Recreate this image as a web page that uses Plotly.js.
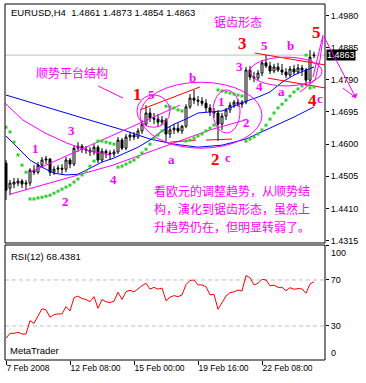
<!DOCTYPE html>
<html><head><meta charset="utf-8">
<script src="https://cdn.plot.ly/plotly-3.0.1.min.js"></script>
<style>html,body{margin:0;padding:0;background:#fff;}#c{width:366px;height:383px;}</style>
</head><body><div id="c"></div>
<script>
// ---- data (EURUSD H4, bar index 0 = 7 Feb 2008) ----
const tickBars = [0, 16, 32, 48, 64];
const tickLabels = ['7 Feb 2008', '12 Feb 08:00', '15 Feb 00:00', '19 Feb 16:00', '22 Feb 08:00'];
const priceTicks = [1.4315, 1.4410, 1.4505, 1.4600, 1.4695, 1.4790, 1.4885, 1.4980];

const open  = [1.4544,1.4470,1.4482,1.4485,1.4491,1.4482,1.4485,1.4523,1.4517,1.4538,1.4553,1.4556,1.4517,1.4526,1.4529,1.4526,1.4553,1.4541,1.4588,1.4594,
               1.4585,1.4582,1.4577,1.4591,1.4553,1.4579,1.4574,1.4571,1.4577,1.4612,1.4588,1.4621,1.4627,1.4621,1.4639,1.4659,1.4692,1.4677,1.4674,1.4665,
               1.4671,1.4630,1.4642,1.4647,1.4639,1.4653,1.4710,1.4736,1.4730,1.4727,1.4721,1.4707,1.4695,1.4692,1.4659,1.4683,1.4701,1.4715,1.4724,1.4718,
               1.4724,1.4819,1.4798,1.4795,1.4810,1.4840,1.4831,1.4816,1.4828,1.4819,1.4813,1.4804,1.4822,1.4813,1.4825,1.4819,1.4789,1.4861];
const high  = [1.4553,1.4494,1.4500,1.4500,1.4497,1.4494,1.4529,1.4538,1.4547,1.4562,1.4565,1.4559,1.4535,1.4538,1.4541,1.4562,1.4559,1.4597,1.4606,1.4600,
               1.4594,1.4591,1.4600,1.4597,1.4588,1.4585,1.4582,1.4585,1.4621,1.4618,1.4630,1.4636,1.4636,1.4647,1.4671,1.4715,1.4707,1.4692,1.4689,1.4683,
               1.4677,1.4653,1.4659,1.4662,1.4656,1.4718,1.4748,1.4760,1.4742,1.4739,1.4733,1.4718,1.4707,1.4701,1.4692,1.4707,1.4724,1.4730,1.4733,1.4730,
               1.4828,1.4831,1.4813,1.4819,1.4849,1.4863,1.4843,1.4837,1.4840,1.4837,1.4825,1.4831,1.4834,1.4837,1.4834,1.4825,1.4878,1.4873];
const low   = [1.4435,1.4449,1.4470,1.4476,1.4470,1.4464,1.4476,1.4509,1.4511,1.4532,1.4541,1.4506,1.4509,1.4514,1.4511,1.4517,1.4529,1.4535,1.4577,1.4574,
               1.4571,1.4565,1.4568,1.4544,1.4547,1.4559,1.4553,1.4562,1.4571,1.4582,1.4582,1.4609,1.4612,1.4615,1.4630,1.4653,1.4665,1.4659,1.4653,1.4656,
               1.4606,1.4618,1.4630,1.4633,1.4630,1.4647,1.4704,1.4718,1.4713,1.4713,1.4695,1.4683,1.4677,1.4609,1.4642,1.4671,1.4692,1.4707,1.4710,1.4707,
               1.4718,1.4789,1.4783,1.4789,1.4801,1.4825,1.4807,1.4810,1.4813,1.4804,1.4795,1.4798,1.4804,1.4807,1.4801,1.4772,1.4778,1.4854];
const close = [1.4464,1.4485,1.4488,1.4491,1.4482,1.4485,1.4523,1.4517,1.4538,1.4553,1.4556,1.4517,1.4526,1.4529,1.4526,1.4553,1.4541,1.4588,1.4594,1.4585,
               1.4582,1.4577,1.4591,1.4553,1.4579,1.4574,1.4571,1.4577,1.4612,1.4588,1.4621,1.4627,1.4621,1.4639,1.4659,1.4692,1.4677,1.4674,1.4665,1.4671,
               1.4630,1.4642,1.4647,1.4639,1.4653,1.4710,1.4736,1.4730,1.4727,1.4721,1.4707,1.4695,1.4692,1.4659,1.4683,1.4701,1.4715,1.4724,1.4718,1.4724,
               1.4819,1.4798,1.4795,1.4810,1.4840,1.4831,1.4816,1.4828,1.4819,1.4813,1.4804,1.4822,1.4813,1.4825,1.4819,1.4789,1.4857,1.4863];
const sar   = [1.4650,1.4636,1.4606,1.4568,1.4538,1.4517,1.4438,1.4438,1.4441,1.4443,1.4446,1.4449,1.4455,1.4461,1.4467,1.4473,1.4479,1.4488,1.4497,1.4509,
               1.4520,1.4535,1.4550,1.4609,1.4609,1.4606,1.4603,1.4600,1.4532,1.4535,1.4541,1.4547,1.4553,1.4562,1.4574,1.4585,1.4600,1.4615,1.4627,1.4639,
               1.4712,1.4710,1.4707,1.4701,1.4698,1.4609,1.4612,1.4618,1.4624,1.4630,1.4639,1.4647,1.4656,1.4760,1.4757,1.4754,1.4751,1.4748,1.4745,1.4742,
               1.4609,1.4615,1.4621,1.4630,1.4642,1.4656,1.4674,1.4692,1.4707,1.4718,1.4730,1.4742,1.4754,1.4763,1.4772,1.4863,1.4766,1.4769];
const rsi   = [19.3,23.6,23.6,24.5,23.0,23.0,34.6,32.3,38.7,45.0,44.0,37.6,39.8,40.5,40.5,46.8,43.0,54.6,56.0,53.8,
               53.0,51.0,55.5,45.4,53.0,51.0,50.4,51.5,59.3,53.0,59.8,61.0,59.6,62.5,65.0,67.1,62.0,63.6,62.0,63.0,
               52.0,55.0,56.4,55.5,57.0,66.0,69.5,70.0,65.7,65.7,64.2,57.0,57.5,44.5,49.7,56.0,59.0,59.6,61.3,60.4,
               73.8,72.0,65.7,67.1,70.6,70.0,65.0,65.5,63.6,63.6,60.7,63.3,61.9,62.5,62.2,58.4,66.5,68.4381];
const maFastBars = [0,3,6,9,12,15,18,21,24,27,30,33,36,39,42,45,48,51,54,57,60,63,66,69,72,75,77];
const maFast = [1.4624,1.4588,1.4553,1.4532,1.4514,1.4509,1.4511,1.4529,1.4547,1.4559,1.4574,1.4591,1.4612,1.4639,1.4659,1.4674,1.4692,1.4695,1.4698,1.4712,1.4727,1.4739,1.4754,1.4783,1.4804,1.4819,1.4828];
const maSlowBars = [0,6,12,18,24,30,36,42,48,54,60,66,72,77];
const maSlow = [1.4745,1.4724,1.4704,1.4683,1.4662,1.4639,1.4615,1.4600,1.4591,1.4597,1.4615,1.4647,1.4680,1.4710];
const lastPrice = 1.4863;

// hand-drawn analysis objects (bar, price)
const magentaLines = [
  [[23,1.4772],[29.25,1.4736]],
  [[6,1.4517],[43.5,1.4715]],
  [[1,1.4452],[26.75,1.4538],[51,1.4642],[59.75,1.4671]],
  [[-0.25,1.4721],[4.25,1.4671],[9.75,1.4633],[15.25,1.4603],[21,1.4579],[26,1.4568]],
  [[73.5,1.4754],[77.25,1.4789],[78.5,1.4849],[79.25,1.4916]]
];
const redLines = [
  [[33.5,1.4701],[48.5,1.4769]],
  [[41,1.4606],[47.5,1.4612]],
  [[50,1.4612],[56.5,1.4615]],
  [[62.25,1.4869],[79.75,1.4834]],
  [[65.5,1.4795],[79.75,1.4766]]
];
const ellipses = [
  [32.75,41,1.4650,1.4745],
  [33.5,64,1.4588,1.4783],
  [51.75,58.5,1.4633,1.4760],
  [61,79,1.4772,1.4857]
];
const waveLabels = ['锯齿形态','3','5','b','5','顺势平台结构','1','5','b','3','1','4','a','4','c','2','1','3','4','a','2','c','2'];
const waveX = [58,59,64.5,71,77.5,16.5,32.75,36.25,46.5,58.25,53.75,63.25,68.75,76.5,78.5,60,7.25,16.25,26.75,41.25,52.25,55.5,14.75];
const waveY = [1.4961,1.4896,1.4890,1.4890,1.4931,1.4813,1.4748,1.4748,1.4798,1.4828,1.4727,1.4769,1.4757,1.4730,1.4736,1.4665,1.4588,1.4639,1.4497,1.4556,1.4556,1.4562,1.4432];
const waveKind = ['cjk','red','mag','mag','red','cjk','red','mag','mag','mag','mag','mag','mag','red','mag','mag','mag','mag','mag','mag','red','mag','mag'];
const comment = ['看欧元的调整趋势，从顺势结','构，演化到锯齿形态，虽然上','升趋势仍在，但明显转弱了。'];
const commentY = [1.4464,1.4411,1.4358];

// ---- drawing ----
const bars = close.map((_, i) => i);
const MAG = '#ff00ff', RED = '#ff0000';
const tickFont = {family:'Liberation Sans, Arial, sans-serif', size:9, color:'#000'};
const traces = [];
traces.push({type:'scatter', mode:'lines', x:maSlowBars, y:maSlow, line:{color:'#0000ff', width:1}, hoverinfo:'skip'});
traces.push({type:'scatter', mode:'lines', x:maFastBars, y:maFast, line:{color:'#0000ff', width:1}, hoverinfo:'skip'});
magentaLines.forEach(l => traces.push({type:'scatter', mode:'lines', x:l.map(p=>p[0]), y:l.map(p=>p[1]), line:{color:MAG, width:1}, hoverinfo:'skip'}));
redLines.forEach(l => traces.push({type:'scatter', mode:'lines', x:l.map(p=>p[0]), y:l.map(p=>p[1]), line:{color:RED, width:1}, hoverinfo:'skip'}));
traces.push({type:'candlestick', x:bars, open:open, high:high, low:low, close:close,
  increasing:{line:{color:'#000', width:1}, fillcolor:'#ffffff'},
  decreasing:{line:{color:'#000', width:1}, fillcolor:'#000000'}, whiskerwidth:0, hoverinfo:'skip'});
traces.push({type:'scatter', mode:'markers', x:bars, y:sar, marker:{symbol:'square', size:3, color:'#32cd32'}, hoverinfo:'skip'});
traces.push({type:'scatter', mode:'lines', x:bars, y:rsi, yaxis:'y2', line:{color:RED, width:1}, hoverinfo:'skip'});

const shapes = [];
shapes.push({type:'rect', xref:'paper', yref:'paper', x0:0, x1:1, y0:0.3287, y1:1, line:{color:'#000', width:1}});
shapes.push({type:'rect', xref:'paper', yref:'paper', x0:0, x1:1, y0:0, y1:0.323, line:{color:'#000', width:1}});
shapes.push({type:'line', xref:'paper', yref:'y', x0:0, x1:1, y0:lastPrice, y1:lastPrice, line:{color:'#c0c0c0', width:1}, layer:'below'});
[30,70].forEach(v => shapes.push({type:'line', xref:'paper', yref:'y2', x0:0, x1:1, y0:v, y1:v, line:{color:'#c0c0c0', width:1, dash:'4px,3px'}, layer:'below'}));
ellipses.forEach(e => shapes.push({type:'circle', xref:'x', yref:'y', x0:e[0], x1:e[1], y0:e[2], y1:e[3], line:{color:MAG, width:1}}));
shapes.push({type:'line', xref:'paper', yref:'paper', x0:0.99375, y0:0.9129, x1:0.9625, y1:0.7949, line:{color:MAG, width:1}});
shapes.push({type:'line', xref:'paper', yref:'paper', x0:1.0563, y0:0.7640, x1:1.0969, y1:0.7360, line:{color:MAG, width:1}});

const ann = [];
ann.push({xref:'paper', yref:'paper', x:0.0125, y:0.9775, xanchor:'left', yanchor:'middle', showarrow:false,
  text:'EURUSD,H4\u00a0\u00a01.4861 1.4873 1.4854 1.4863', font:{family:'Liberation Sans, Arial, sans-serif', size:9.5, color:'#000'}});
ann.push({xref:'paper', yref:'paper', x:0.0125, y:0.292, xanchor:'left', yanchor:'middle', showarrow:false,
  text:'RSI(12) 68.4381', font:{family:'Liberation Sans, Arial, sans-serif', size:9.5, color:'#000'}});
ann.push({xref:'paper', yref:'paper', x:0.009, y:0.0253, xanchor:'left', yanchor:'middle', showarrow:false,
  text:'MetaTrader', font:{family:'Liberation Sans, Arial, sans-serif', size:9.5, color:'#000'}});
ann.push({xref:'paper', yref:'y', x:1, y:lastPrice, xanchor:'left', yanchor:'middle', xshift:1, showarrow:false,
  text:'1.4863', bgcolor:'#000', borderpad:0, font:{family:'Liberation Sans, Arial, sans-serif', size:9, color:'#fff'}});
ann.push({xref:'paper', yref:'y2', x:1, y:93.5, xanchor:'left', yanchor:'middle', xshift:4, showarrow:false, text:'100', font:tickFont});
ann.push({xref:'paper', yref:'y2', x:1, y:6.5, xanchor:'left', yanchor:'middle', xshift:4, showarrow:false, text:'0', font:tickFont});
ann.push({xref:'paper', yref:'paper', x:1.0969, y:0.7360, ax:-33, ay:-63, showarrow:true, arrowhead:1, arrowsize:1.2, arrowwidth:1, arrowcolor:MAG, text:''});
waveLabels.forEach((t, i) => {
  const k = waveKind[i];
  const font = k === 'cjk' ? {family:'Noto Sans CJK SC', size:12, color:MAG}
             : k === 'red' ? {family:'Liberation Serif, Times New Roman, serif', size:17, color:RED}
             : {family:'Liberation Serif, Times New Roman, serif', size:13, color:MAG};
  ann.push({xref:'x', yref:'y', x:waveX[i], y:waveY[i], showarrow:false, text: k==='cjk' ? t : '<b>'+t+'</b>', font:font, xanchor:'center', yanchor:'middle'});
});
comment.forEach((t, i) => ann.push({xref:'x', yref:'y', x:36.5, y:commentY[i], xanchor:'left', yanchor:'middle', showarrow:false, text:t,
  font:{family:'Noto Sans CJK SC', size:12, color:MAG}}));

const layout = {
  width:366, height:383, margin:{l:5, r:41, t:4, b:23}, paper_bgcolor:'#fff', plot_bgcolor:'#fff', showlegend:false,
  xaxis:{range:[-0.25,79.75], showgrid:false, zeroline:false, showline:false, ticks:'outside', ticklen:4, tickcolor:'#000',
    tickvals:tickBars, ticktext:tickLabels, ticklabelposition:'outside right', tickfont:{family:'Liberation Sans, Arial, sans-serif', size:8.5, color:'#000'},
    rangeslider:{visible:false}, anchor:'y2', fixedrange:true},
  yaxis:{domain:[0.3287,1], range:[1.4308,1.5014], side:'right', anchor:'x', showgrid:false, zeroline:false, showline:false,
    ticks:'outside', ticklen:3, tickcolor:'#000', tickvals:priceTicks, ticktext:priceTicks.map(v=>v.toFixed(4)), tickfont:tickFont},
  yaxis2:{domain:[0,0.323], range:[0.4,100.4], side:'right', anchor:'x', showgrid:false, zeroline:false, showline:false,
    ticks:'outside', ticklen:3, tickcolor:'#000', tickvals:[0,30,70,100], ticktext:['','30','70',''], tickfont:tickFont},
  shapes:shapes, annotations:ann
};
Plotly.newPlot('c', traces, layout, {staticPlot:true, displayModeBar:false});
</script></body></html>
